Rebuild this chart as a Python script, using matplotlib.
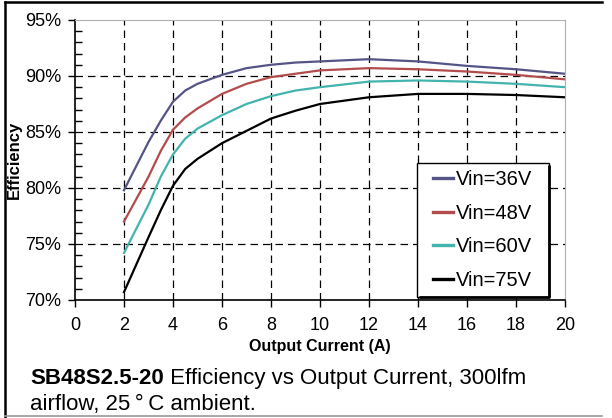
import numpy as np
import matplotlib
matplotlib.use("Agg")
import matplotlib.pyplot as plt
from matplotlib.lines import Line2D
from matplotlib.patches import Rectangle
from matplotlib.ticker import MultipleLocator, FuncFormatter

plt.rcParams['font.family'] = ['Liberation Sans', 'DejaVu Sans']

# data
current = [2, 3, 3.5, 4, 4.5, 5, 6, 7, 8, 9, 10, 12, 14, 16, 18, 20]
eff_36 = [79.8, 84.1, 86.0, 87.7, 88.7, 89.3, 90.1, 90.7, 91.0, 91.2, 91.3, 91.5, 91.3, 90.9, 90.6, 90.2]
eff_48 = [77.0, 81.0, 83.3, 85.2, 86.3, 87.1, 88.4, 89.3, 89.9, 90.2, 90.5, 90.7, 90.6, 90.4, 90.1, 89.7]
eff_60 = [74.2, 78.5, 81.0, 83.0, 84.4, 85.3, 86.5, 87.5, 88.2, 88.7, 89.0, 89.5, 89.6, 89.5, 89.3, 89.0]
eff_75 = [70.7, 75.6, 78.0, 80.2, 81.7, 82.6, 84.0, 85.1, 86.2, 86.9, 87.5, 88.1, 88.4, 88.4, 88.3, 88.1]
labels = ["Vin=36V", "Vin=48V", "Vin=60V", "Vin=75V"]
colors = ["#545486", "#b24c4c", "#43b3ad", "#000000"]

fig = plt.figure(figsize=(6.12, 4.18), dpi=100)
ax = fig.add_axes([0.1225, 0.2823, 0.8007, 0.6699])

for ys, lab, col in zip([eff_36, eff_48, eff_60, eff_75], labels, colors):
    ax.plot(current, ys, color=col, lw=1.6, label=lab, solid_joinstyle='round')

ax.set_xlim(0, 20)
ax.set_ylim(70, 95)
ax.xaxis.set_major_locator(MultipleLocator(2))
ax.yaxis.set_major_locator(MultipleLocator(5))
ax.yaxis.set_minor_locator(MultipleLocator(1))
ax.yaxis.set_major_formatter(FuncFormatter(lambda v, p: "%d%%" % v))

ax.tick_params(axis='both', which='major', labelsize=13, length=5, width=1, direction='out')
ax.tick_params(axis='y', which='minor', length=5, width=1, direction='in')
ax.tick_params(axis='x', pad=7)
ax.tick_params(axis='y', pad=5)

# dashed grid, without the edges
for xv in range(2, 20, 2):
    ax.axvline(xv, color='black', lw=0.9, ls=(0, (6, 4)), zorder=0.5)
for yv in range(75, 95, 5):
    ax.axhline(yv, color='black', lw=0.9, ls=(0, (6, 4)), zorder=0.5)

ax.spines['left'].set_color('black')
ax.spines['bottom'].set_color('black')
ax.spines['left'].set_linewidth(1.2)
ax.spines['bottom'].set_linewidth(1.2)
ax.spines['top'].set_color('#b0b0b0')
ax.spines['right'].set_color('#b0b0b0')

ax.set_xlabel("Output Current (A)", fontsize=11.5, fontweight='bold', labelpad=4)
ax.set_ylabel("Efficiency", fontsize=12, fontweight='bold', labelpad=2)

# legend box drawn by hand, with a darker right/bottom edge
bx0, bx1, by0, by1 = 0.698, 0.967, 0.011, 0.489
ax.add_patch(Rectangle((bx0, by0), bx1 - bx0, by1 - by0, transform=ax.transAxes,
                       facecolor='white', edgecolor='black', lw=1.0, zorder=4))
ax.plot([bx0 + 0.004, bx1, bx1], [by0, by0, by1 - 0.006], transform=ax.transAxes,
        color='black', lw=2.0, zorder=4.1, solid_capstyle='butt')
leg = ax.legend(loc='center', bbox_to_anchor=((bx0 + bx1) / 2, (by0 + by1) / 2), fontsize=14.5,
                frameon=False, handlelength=1.0, handletextpad=0.15, labelspacing=0.72,
                borderpad=0, borderaxespad=0)
leg.set_zorder(5)
for h in leg.get_lines():
    h.set_linewidth(2.4)

# caption under the chart
t1 = fig.text(30 / 612, 1 - 384 / 418, "SB48S2.5-20", fontsize=16, fontweight='bold')
fig.canvas.draw()
bb = t1.get_window_extent()
fig.text(bb.x1 / 612, 1 - 384 / 418, " Efficiency vs Output Current, 300lfm", fontsize=16)
fig.text(30 / 612, 1 - 410 / 418, "airflow, 25\u2009\u00b0\u2009C ambient.", fontsize=16)

# outer frame lines
fig.add_artist(Line2D([5 / 612, 5 / 612], [0.003, 1 - 2 / 418], color='black', lw=1.8))
fig.add_artist(Line2D([5 / 612, 602 / 612], [1 - 2 / 418, 1 - 2 / 418], color='black', lw=1.8))
fig.add_artist(Line2D([5 / 612, 602 / 612], [1 - 416 / 418, 1 - 416 / 418], color='#999999', lw=1.2))

fig.savefig("out.png", dpi=100)
